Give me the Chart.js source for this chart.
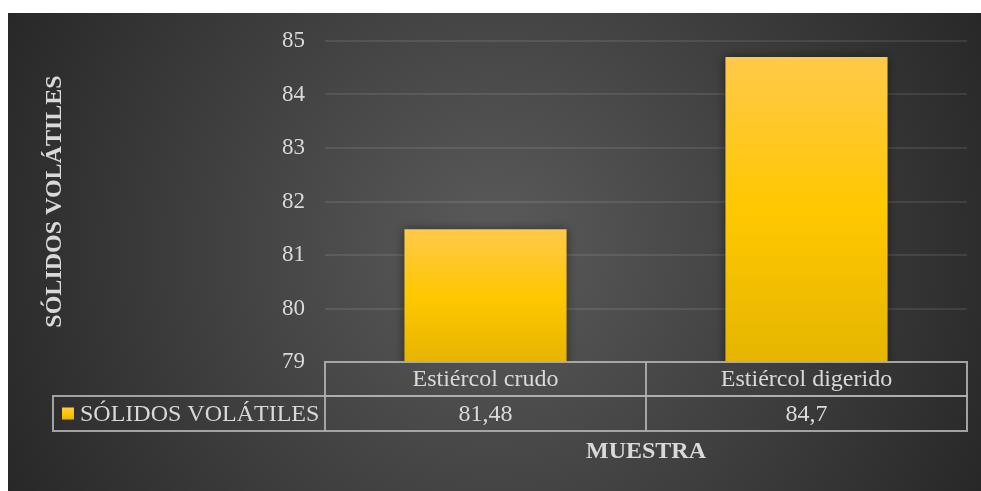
<!DOCTYPE html>
<html>
<head>
<meta charset="utf-8">
<script src="https://cdn.jsdelivr.net/npm/chart.js@4.4.1/dist/chart.umd.min.js"></script>
<style>
  html, body { margin: 0; padding: 0; background: #fff; }
  #wrap { width: 981px; height: 491px; }
</style>
</head>
<body>
<div id="wrap"><canvas id="svChart" width="981" height="491"></canvas></div>
<script>
// --- Data ---
const categories = ['Estiércol crudo', 'Estiércol digerido'];
const seriesName = 'SÓLIDOS VOLÁTILES';
const values = [81.48, 84.7];
const yMin = 79;
const yMax = 85;

const TEXT = '#d9d9d9';
const SERIF = "'Liberation Serif', 'Times New Roman', serif";
const LINE = 'rgba(175, 175, 175, 0.9)';

Chart.defaults.font.family = SERIF;

// comma decimal, as written in the table
const fmt = v => String(v).replace('.', ',');

// vertical yellow fill, one ramp per bar
function barFill(ctx, top, bottom) {
    const g = ctx.createLinearGradient(0, top, 0, bottom);
    g.addColorStop(0, '#ffc94a');
    g.addColorStop(0.5, '#ffc800');
    g.addColorStop(1, '#e5b500');
    return g;
}

// --- Background: white frame + dark radial panel ---
const panelBg = {
    id: 'panelBg',
    beforeDraw(chart) {
        const { ctx, width, height } = chart;
        ctx.save();
        ctx.fillStyle = '#ffffff';
        ctx.fillRect(0, 0, width, height);
        const g = ctx.createRadialGradient(495, 250, 0, 495, 250, 560);
        g.addColorStop(0, '#5b5b5b');
        g.addColorStop(1, '#262626');
        ctx.fillStyle = g;
        ctx.fillRect(8, 13, width - 8, height - 13);
        ctx.restore();
    }
};

// soft shadow behind the bars
const barShadow = {
    id: 'barShadow',
    beforeDatasetDraw(chart) {
        const ctx = chart.ctx;
        ctx.save();
        ctx.shadowColor = 'rgba(0, 0, 0, 0.45)';
        ctx.shadowBlur = 10;
        ctx.shadowOffsetX = 0;
        ctx.shadowOffsetY = 0;
    },
    afterDatasetDraw(chart) {
        chart.ctx.restore();
    }
};

// --- Data table under the plot ---
const dataTable = {
    id: 'dataTable',
    afterDraw(chart) {
        const { ctx, chartArea } = chart;
        const x = chart.scales.x;
        const left = chartArea.left;
        const right = chartArea.right;
        const colW = (right - left) / categories.length;
        const r0 = chartArea.bottom;
        const r1 = r0 + 34;
        const r2 = r1 + 35;
        const legendLeft = 53;

        ctx.save();
        ctx.strokeStyle = LINE;
        ctx.lineWidth = 2;

        // header row (categories)
        ctx.strokeRect(left, r0, right - left, r1 - r0);
        // value row incl. legend cell
        ctx.strokeRect(legendLeft, r1, right - legendLeft, r2 - r1);
        ctx.beginPath();
        ctx.moveTo(left, r1);
        ctx.lineTo(left, r2);
        for (let i = 1; i < categories.length; i++) {
            const cx = left + colW * i;
            ctx.moveTo(cx, r0);
            ctx.lineTo(cx, r2);
        }
        ctx.stroke();

        ctx.fillStyle = TEXT;
        ctx.font = '24px ' + SERIF;
        ctx.textAlign = 'center';
        ctx.textBaseline = 'middle';
        categories.forEach((c, i) => {
            const cx = x.getPixelForValue(i);
            ctx.fillText(c, cx, (r0 + r1) / 2 + 1);
            ctx.fillText(fmt(values[i]), cx, (r1 + r2) / 2 + 1);
        });

        // legend key
        const ky = (r1 + r2) / 2 - 6;
        ctx.fillStyle = barFill(ctx, ky, ky + 12);
        ctx.fillRect(62, ky, 12, 12);
        ctx.fillStyle = TEXT;
        ctx.textAlign = 'left';
        ctx.fillText(seriesName, 80, (r1 + r2) / 2 + 1);

        // axis title
        ctx.font = 'bold 24px ' + SERIF;
        ctx.textAlign = 'center';
        ctx.fillText('MUESTRA', (left + right) / 2, 452);
        ctx.restore();
    }
};

const ctx = document.getElementById('svChart').getContext('2d');

const svChart = new Chart(ctx, {
    type: 'bar',
    data: {
        labels: categories,
        datasets: [{
            label: seriesName,
            data: values,
            backgroundColor: (c) => {
                const chart = c.chart;
                if (!chart.chartArea || c.dataIndex === undefined) return '#ffc800';
                const top = chart.scales.y.getPixelForValue(values[c.dataIndex]);
                return barFill(chart.ctx, top, chart.chartArea.bottom);
            },
            borderWidth: 0,
            categoryPercentage: 1,
            barPercentage: 0.505
        }]
    },
    options: {
        responsive: false,
        animation: false,
        layout: {
            padding: { top: 41, right: 14, bottom: 129, left: 0 }
        },
        plugins: {
            legend: { display: false },
            tooltip: { enabled: false }
        },
        scales: {
            x: { display: false },
            y: {
                min: yMin,
                max: yMax,
                afterFit: (s) => { s.width = 325; },
                ticks: {
                    stepSize: 1,
                    padding: 20,
                    color: TEXT,
                    font: { family: SERIF, size: 23 }
                },
                grid: {
                    color: 'rgba(255, 255, 255, 0.09)',
                    lineWidth: 2,
                    drawTicks: false
                },
                border: { display: false },
                title: {
                    display: true,
                    text: 'SÓLIDOS VOLÁTILES',
                    color: TEXT,
                    font: { family: SERIF, size: 24, weight: 'bold' },
                    padding: { top: 40, bottom: 0 }
                }
            }
        }
    },
    plugins: [panelBg, barShadow, dataTable]
});
</script>
</body>
</html>
